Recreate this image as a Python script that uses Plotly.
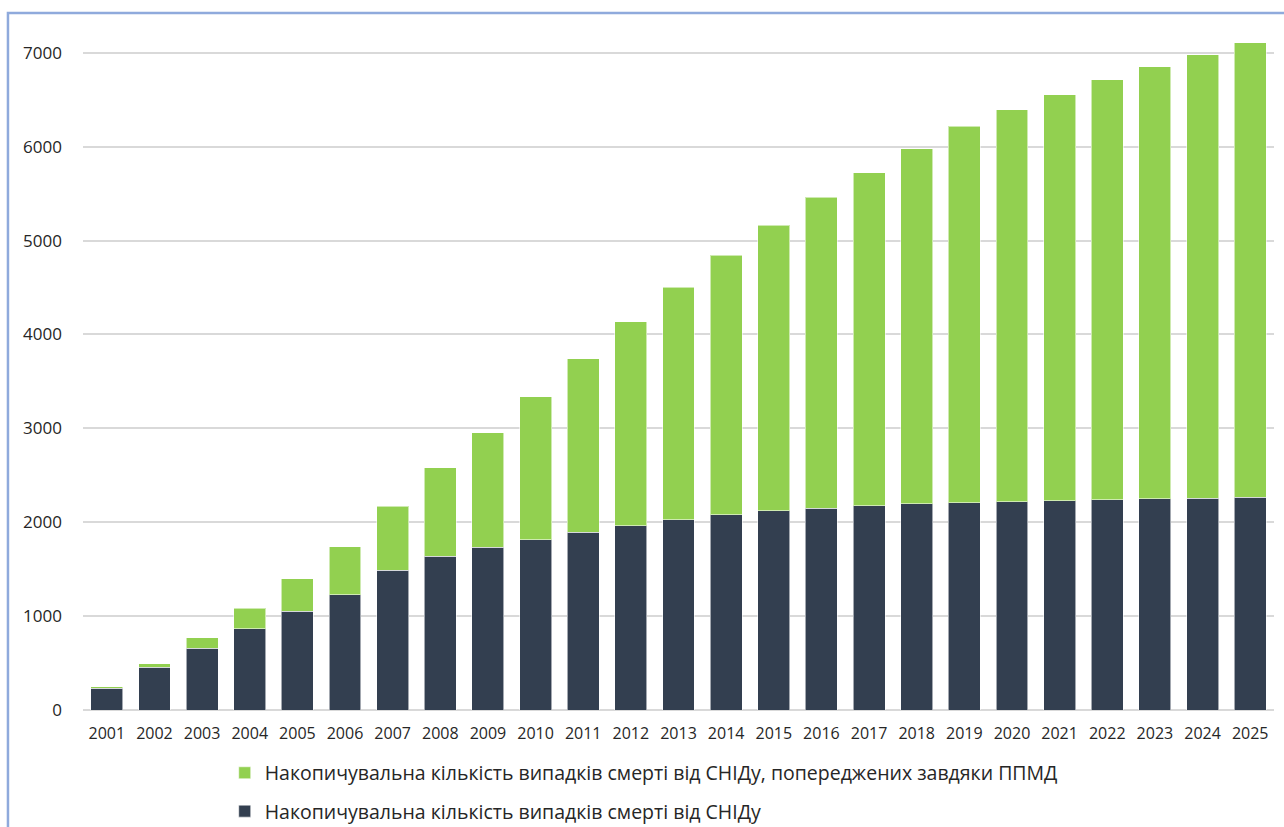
import plotly.graph_objects as go

years = [str(y) for y in range(2001, 2026)]

# Cumulative AIDS deaths
aids_deaths = [230, 455, 657, 867, 1051, 1225, 1487, 1636, 1732, 1811,
               1894, 1962, 2025, 2078, 2124, 2149, 2174, 2196, 2206, 2220,
               2231, 2241, 2249, 2255, 2266]

# Cumulative total (deaths + deaths averted)
cumulative_total = [250, 495, 768, 1083, 1399, 1739, 2168, 2580, 2952, 3335,
                    3741, 4135, 4504, 4845, 5164, 5462, 5724, 5980, 6217, 6395,
                    6552, 6711, 6850, 6981, 7105]

# Cumulative deaths averted by ART
deaths_averted = [t - d for t, d in zip(cumulative_total, aids_deaths)]

name_deaths = "Накопичувальна кількість випадків смерті від СНІДу"
name_averted = "Накопичувальна кількість випадків смерті від СНІДу, попереджених завдяки ППМД"

DARK = "#333F50"
GREEN = "#92D050"
GRID = "#D9D9D9"
TEXT = "#262626"

fig = go.Figure()
fig.add_trace(go.Bar(
    x=years, y=aids_deaths, name=name_deaths,
    marker=dict(color=DARK, line=dict(color="rgba(255,255,255,0.55)", width=1)),
    legendgroup="deaths", legendrank=2,
))
fig.add_trace(go.Bar(
    x=years, y=deaths_averted, name=name_averted,
    marker=dict(color=GREEN, line=dict(color="rgba(255,255,255,0.55)", width=1)),
    legendgroup="averted", legendrank=1,
))

# Light blue frame around the chart area (top and left edges)
fig.add_shape(
    type="path", xref="paper", yref="paper",
    path="M -0.063,-0.2 L -0.063,1.0311 L 1.03,1.0311",
    line=dict(color="#8FAADC", width=2.5),
)

fig.update_layout(
    width=1284, height=827,
    margin=dict(l=83, r=10, t=34, b=117, autoexpand=False),
    paper_bgcolor="white", plot_bgcolor="white",
    barmode="stack", bargap=0.33,
    font=dict(family="Open Sans, DejaVu Sans, sans-serif", color=TEXT),
    showlegend=True,
    legend=dict(
        orientation="v", traceorder="grouped", tracegroupgap=10,
        x=0.119, xanchor="left", y=-0.0645, yanchor="top",
        font=dict(size=19.5, color=TEXT),
        itemclick=False, itemdoubleclick=False,
    ),
    xaxis=dict(
        showgrid=False, showline=False, ticks="", ticklabelstandoff=12,
        tickfont=dict(size=16, color=TEXT), automargin=False,
    ),
    yaxis=dict(
        range=[0, 7200], tickvals=[0, 1000, 2000, 3000, 4000, 5000, 6000, 7000],
        showgrid=True, gridcolor=GRID, gridwidth=1.5,
        zeroline=True, zerolinecolor=GRID, zerolinewidth=1.5,
        showline=False, ticks="", ticklabelstandoff=20,
        tickfont=dict(size=17, color=TEXT), automargin=False,
    ),
)

fig.write_html("out.html")
